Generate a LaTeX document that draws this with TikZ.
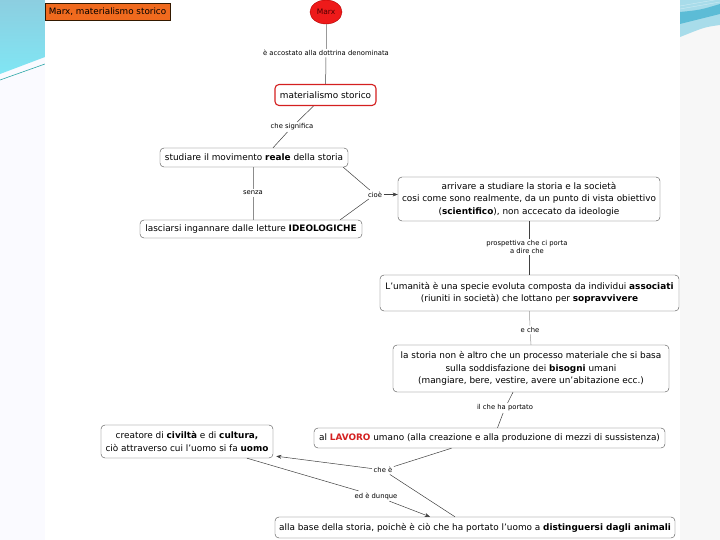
\documentclass[tikz,border=0pt]{standalone}
\usepackage{fontspec}
\setmainfont{DejaVu Sans}
\usetikzlibrary{arrows.meta, positioning, shapes.geometric}
\definecolor{MapRed}{HTML}{D42020}
\definecolor{MarxRed}{HTML}{EE1A1A}
\definecolor{TitleOrange}{HTML}{F06A1E}
\definecolor{SlideTop}{HTML}{8CCEE0}
\definecolor{SlideBottom}{HTML}{80E6F4}
\definecolor{SlideLine}{HTML}{2AA6A6}
\definecolor{SwooshLight}{HTML}{A8DCEA}
\definecolor{SwooshDark}{HTML}{5CBCD6}

\begin{document}
\begin{tikzpicture}[x=1pt, y=-1pt, >=Stealth,
    box/.style={draw=black!70, rounded corners=4pt, fill=white, align=center,
                font=\fontsize{8.9}{12.5}\selectfont, inner sep=1.5pt},
    lbl/.style={fill=white, font=\fontsize{6.8}{8}\selectfont,
                inner sep=1.5pt, align=center},
    conn/.style={draw=black!75, line width=0.5pt}]
  % slide background
  \useasboundingbox (0,0) rectangle (720,540);
  \fill[white] (0,0) rectangle (720,540);
  \fill[blue!2] (0,0) rectangle (45,540);
  \fill[black!3] (680,0) rectangle (720,540);
  \shade[top color=SlideTop, bottom color=SlideBottom]
    (0,0) -- (45,0) -- (45,57) -- (0,74) -- cycle;
  \draw[SlideLine, line width=0.6pt] (0,80) -- (45,64);
  \fill[SwooshLight] (680,0) -- (720,0) -- (720,25)
    .. controls (705,27) .. (680,37) -- cycle;
  \fill[SwooshDark] (680,12) .. controls (700,10) .. (720,4) -- (720,14)
    .. controls (700,19) .. (680,24) -- cycle;
  \draw[white!70!SwooshDark, line width=0.4pt] (680,6) -- (720,-1);
  \draw[white!70!SwooshDark, line width=0.4pt] (680,9) -- (720,2);
  \fill[white] (45,0) rectangle (680,540);

  % title and root
  \node[draw=black!80!orange, fill=TitleOrange, minimum width=125, minimum height=17,
        inner sep=1pt, font=\fontsize{8.8}{10}\selectfont] (title) at (107.5,11.5)
    {Marx, materialismo storico};
  \node[ellipse, draw=red!70!black, fill=MarxRed, minimum width=32, minimum height=24,
        inner sep=0pt, font=\fontsize{7.5}{9}\selectfont, text=red!30!black] (marx) at (326,12)
    {Marx};

  % concepts
  \node[box, draw=MapRed, line width=1.1pt, minimum width=101, minimum height=21] (matstor)
    at (325.5,95) {materialismo storico};
  \node[box, minimum width=188, minimum height=19] (studiare) at (254,157.5)
    {studiare il movimento \textbf{reale} della storia};
  \node[box, minimum width=222, minimum height=18] (lasciarsi) at (251,229)
    {lasciarsi ingannare dalle letture \textbf{IDEOLOGICHE}};
  \node[box, minimum width=262, minimum height=44] (arrivare) at (529,199)
    {arrivare a studiare la storia e la società\\
     cosi come sono realmente, da un punto di vista obiettivo\\
     (\textbf{scientifico}), non accecato da ideologie};
  \node[box, minimum width=299, minimum height=36] (umanita) at (529.5,293)
    {L'umanità è una specie evoluta composta da individui \textbf{associati}\\
     (riuniti in società) che lottano per \textbf{sopravvivere}};
  \node[box, minimum width=276, minimum height=47] (storia) at (531,368.5)
    {la storia non è altro che un processo materiale che si basa\\
     sulla soddisfazione dei \textbf{bisogni} umani\\
     (mangiare, bere, vestire, avere un'abitazione ecc.)};
  \node[box, minimum width=351, minimum height=20] (lavoro) at (489.5,438)
    {al \textbf{\textcolor{MapRed}{LAVORO}} umano (alla creazione e alla produzione di mezzi di sussistenza)};
  \node[box, minimum width=172, minimum height=33] (creatore) at (187,441.5)
    {creatore di \textbf{civiltà} e di \textbf{cultura,}\\
     ciò attraverso cui l'uomo si fa \textbf{uomo}};
  \node[box, minimum width=400, minimum height=21] (base) at (475,527.5)
    {alla base della storia, poichè è ciò che ha portato l'uomo a \textbf{distinguersi dagli animali}};

  % linking phrases
  \node[lbl] (accost) at (326,53) {è accostato alla dottrina denominata};
  \node[lbl] (signif) at (292,127) {che significa};
  \node[lbl] (senza) at (253,193) {senza};
  \node[lbl] (cioe) at (375,194.5) {cioè};
  \node[lbl] (prosp) at (527,247) {prospettiva che ci porta\\a dire che};
  \node[lbl] (eche) at (530,330) {e che};
  \node[lbl] (ilche) at (505,408) {il che ha portato};
  \node[lbl] (chee) at (383,470) {che è};
  \node[lbl] (eddunque) at (376,496) {ed è dunque};

  % connectors
  \draw[conn, draw=black!40] (marx) -- (accost);
  \draw[conn] (accost) -- (matstor);
  \draw[conn] ([xshift=-12pt]matstor.south) -- (signif);
  \draw[conn] (signif) -- ([xshift=19pt]studiare.north);
  \draw[conn, draw=black!45] (studiare.south -| senza) -- (senza);
  \draw[conn, draw=black!45] (senza) -- (lasciarsi.north -| senza);
  \draw[conn] ([xshift=-5pt]studiare.south east) -- (cioe);
  \draw[conn] ([xshift=-22pt]lasciarsi.north east) -- (cioe);
  \draw[conn, ->] (cioe) -- (cioe -| arrivare.west);
  \draw[conn] (arrivare.south) -- (prosp.north -| arrivare.south);
  \draw[conn] (prosp.south -| arrivare.south) -- (umanita.north -| arrivare.south);
  \draw[conn, draw=black!40] (umanita.south) -- (eche);
  \draw[conn, draw=black!40] (eche) -- (storia.north);
  \draw[conn] ([xshift=-18pt]storia.south) -- (ilche);
  \draw[conn] (ilche) -- ([xshift=8pt]lavoro.north);
  \draw[conn] ([xshift=-38pt]lavoro.south) -- (chee);
  \draw[conn, ->] (chee) -- ([xshift=3pt, yshift=2pt]creatore.south east);
  \draw[conn] (chee) -- ([xshift=-20pt]base.north);
  \draw[conn] ([xshift=60pt]creatore.south) -- (eddunque);
  \draw[conn, ->] (eddunque) -- ([xshift=-45pt]base.north);
\end{tikzpicture}
\end{document}
